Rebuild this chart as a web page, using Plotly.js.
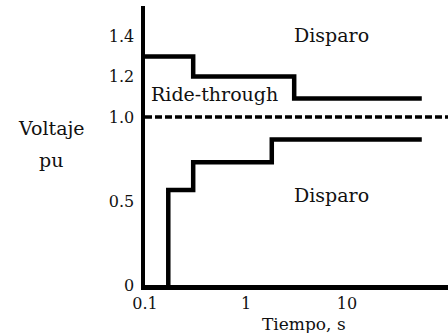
<!DOCTYPE html>
<html>
<head>
<meta charset="utf-8">
<script src="https://cdn.plot.ly/plotly-3.0.1.min.js"></script>
<style>html,body{margin:0;padding:0;background:#fff;}#chart{width:448px;height:333px;}</style>
</head>
<body>
<div id="chart"></div>
<script>
// Upper ride-through limit (time s, voltage in axis units)
var upperT = [0.1, 0.3, 0.3, 3.0, 3.0, 55];
var upperV = [1.36, 1.36, 1.24, 1.24, 1.11, 1.11];
// Lower ride-through limit
var lowerT = [0.17, 0.17, 0.3, 0.3, 1.8, 1.8, 55];
var lowerV = [0, 0.565, 0.565, 0.73, 0.73, 0.865, 0.865];
// Nominal voltage
var nomT = [0.1, 100];
var nomV = [1.0, 1.0];
// Tick labels
var yTickVals = [0, 0.5, 1.0, 1.24, 1.48];
var yTickText = ['0', '0.5', '1.0', '1.2', '1.4'];
var xTickVals = [0.1, 1, 10];
var xTickText = ['0.1', '1', '10'];

var font = 'DejaVu Serif, serif';
var fs = 19;
var traces = [
  {x: upperT, y: upperV, mode: 'lines', line: {color: '#000', width: 4.5}, hoverinfo: 'none'},
  {x: lowerT, y: lowerV, mode: 'lines', line: {color: '#000', width: 4.5}, hoverinfo: 'none'},
  {x: nomT, y: nomV, mode: 'lines', line: {color: '#000', width: 3.5, dash: '7px,3px'}, hoverinfo: 'none'}
];
var layout = {
  width: 448, height: 333,
  margin: {l: 145, r: 0, t: 6, b: 48},
  paper_bgcolor: '#fff', plot_bgcolor: '#fff',
  showlegend: false,
  font: {family: font, color: '#111', size: fs},
  xaxis: {type: 'log', range: [-1, 2], showgrid: false, zeroline: false,
    showline: true, linecolor: '#000', linewidth: 4.5,
    tickvals: xTickVals, ticktext: xTickText, ticks: '', ticklabelstandoff: 0,
    tickfont: {family: font, size: 16, color: '#111'}},
  yaxis: {range: [0, 1.66], showgrid: false, zeroline: false,
    showline: true, linecolor: '#000', linewidth: 4.5,
    tickvals: yTickVals, ticktext: yTickText, ticks: '', ticklabelstandoff: 3,
    tickfont: {family: font, size: 16, color: '#111'}},
  annotations: [
    {x: Math.log10(7.1), y: 1.49, xref: 'x', yref: 'y', text: 'Disparo'},
    {x: Math.log10(7.1), y: 0.536, xref: 'x', yref: 'y', text: 'Disparo'},
    {x: Math.log10(0.49), y: 1.135, xref: 'x', yref: 'y', text: 'Ride-through'},
    {x: 51, y: 128, text: 'Voltaje'},
    {x: 51, y: 160, text: 'pu'},
    {x: 304, y: 324, text: 'Tiempo, s', size: 17}
  ]
};
layout.annotations.forEach(function(a, i){
  a.showarrow = false;
  a.xanchor = 'center'; a.yanchor = 'middle';
  a.font = {family: font, size: a.size || fs, color: '#111'};
  delete a.size;
  if (i >= 3) {
    // pixel-positioned label annotations converted to paper coordinates
    a.xref = 'paper'; a.yref = 'paper';
    a.x = (a.x - 145) / 303;
    a.y = (285 - a.y) / 279;
  }
});
Plotly.newPlot('chart', traces, layout, {displayModeBar: false, staticPlot: true});
</script>
</body>
</html>
